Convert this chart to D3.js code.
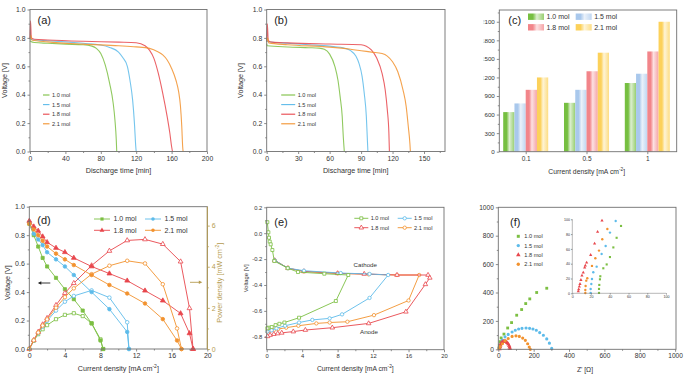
<!DOCTYPE html>
<html>
<head>
<meta charset="utf-8">
<script src="https://cdn.jsdelivr.net/npm/d3@7"></script>
<style>
  body { margin: 0; background: #fff; }
  text { font-family: "Liberation Sans", Arial, sans-serif; }
</style>
</head>
<body>
<svg id="fig" width="685" height="375"></svg>
<script>
// ---- data ----
var molLabels = ["1.0 mol", "1.5 mol", "1.8 mol", "2.1 mol"];
var colors = ["#7cbf43", "#5dbbea", "#e8464c", "#f2922e"];

// (a) discharge curves, [time min, voltage V]
var a10 = [[0,0.78],[1,0.775],[5,0.768],[20,0.762],[40,0.756],[60,0.752],[70,0.742],[75,0.726],[80,0.69],[85,0.61],[90,0.48],[94,0.34],[96,0.22],[97.5,0.08],[98,0]];
var a15 = [[0,0.80],[1,0.79],[5,0.785],[20,0.78],[40,0.772],[60,0.762],[80,0.75],[90,0.733],[100,0.70],[105,0.66],[110,0.60],[113,0.50],[116,0.36],[118,0.2],[119.5,0.035],[120,0]];
var a18 = [[0,0.80],[0.6,0.92],[1.5,0.80],[5,0.79],[20,0.785],[60,0.776],[100,0.77],[120,0.766],[130,0.745],[135,0.714],[140,0.656],[145,0.55],[150,0.41],[155,0.246],[158,0.13],[160,0.035],[161,0]];
var a21 = [[0,0.79],[0.8,0.82],[2,0.785],[20,0.772],[60,0.756],[100,0.745],[120,0.737],[135,0.726],[145,0.70],[150,0.68],[155,0.644],[160,0.585],[165,0.50],[168,0.42],[170,0.32],[171.5,0.175],[172.5,0.035],[173,0]];

// (b) discharge curves, [time min, voltage V]
var b10 = [[0,0.76],[0.5,0.745],[20,0.736],[40,0.731],[50,0.728],[55,0.72],[60,0.686],[65,0.60],[68,0.50],[70,0.386],[72,0.246],[73,0.105],[74,0]];
var b15 = [[0,0.78],[0.5,0.775],[20,0.762],[40,0.752],[60,0.742],[75,0.726],[80,0.71],[85,0.672],[88,0.62],[91,0.527],[93,0.41],[95,0.246],[96,0.08],[96.5,0]];
var b18 = [[0,0.78],[0.6,0.90],[1.5,0.78],[5,0.77],[20,0.765],[60,0.757],[90,0.752],[95,0.742],[100,0.714],[105,0.656],[110,0.55],[113,0.433],[115,0.293],[116.5,0.129],[117,0]];
var b21 = [[0,0.77],[0.8,0.80],[2,0.765],[20,0.752],[60,0.735],[80,0.72],[90,0.71],[100,0.70],[110,0.69],[115,0.672],[120,0.632],[125,0.562],[130,0.433],[133,0.316],[135,0.176],[136.5,0.06],[137,0]];

// (c) bars
var cCategories = ["0.1", "0.5", "1"];
var c10 = [640, 790, 1110];
var c15 = [780, 1000, 1260];
var c18 = [1000, 1300, 1620];
var c21 = [1200, 1600, 2100];
var cTicks = [0, 300, 600, 900, 1200, 1500, 1800, 2100];

// (d) polarization: current, voltage, power
var dCur10 = [0,0.5,1,1.5,2,3,4,5,6,7,8,8.3];
var dVolt10 = [0.88,0.80,0.72,0.64,0.58,0.50,0.42,0.35,0.27,0.18,0.06,0];
var dPow10 = [0,0.40,0.72,0.96,1.16,1.45,1.66,1.74,1.60,1.25,0.47,0];
var dCur15 = [0,0.5,1,1.5,2,3,4,5,7,9,11,11.2];
var dVolt15 = [0.89,0.81,0.77,0.73,0.68,0.63,0.58,0.52,0.40,0.28,0.12,0];
var dPow15 = [0,0.41,0.77,1.09,1.37,1.87,2.30,2.58,2.85,2.50,1.30,0];
var dCur18 = [0,0.5,1,1.5,2,3,4,5,7,9,11,13,15,17,18,18.4];
var dVolt18 = [0.90,0.86,0.83,0.79,0.75,0.71,0.68,0.64,0.58,0.53,0.48,0.41,0.34,0.25,0.11,0];
var dPow18 = [0,0.43,0.83,1.19,1.50,2.13,2.72,3.20,4.06,4.77,5.28,5.33,5.10,4.25,1.98,0];
var dCur21 = [0,0.5,1,1.5,2,3,4,5,7,9,11,13,15,16.6,17.1];
var dVolt21 = [0.88,0.84,0.80,0.76,0.72,0.67,0.63,0.59,0.52,0.45,0.39,0.32,0.21,0.06,0];
var dPow21 = [0,0.42,0.80,1.14,1.44,2.01,2.52,2.95,3.64,4.05,4.29,4.16,3.15,1.0,0];

// (e) electrode potentials, cathode then anode, [current, V]
var e10 = [[0.07,0.085],[0.19,0.007],[0.26,-0.035],[0.34,-0.065],[0.45,-0.086],[0.64,-0.13],[0.86,-0.215],[2.37,-0.27],[3.53,-0.30],[6.5,-0.313],[9.2,-0.323],
           [7.8,-0.524],[3.65,-0.653],[2.0,-0.69],[1.43,-0.70],[1.0,-0.71],[0.56,-0.725],[0.19,-0.73],[0.07,-0.735]];
var e15 = [[0.9,-0.21],[2.4,-0.27],[4.2,-0.29],[8.35,-0.308],[11.6,-0.315],[13.7,-0.323],
           [11.6,-0.50],[8.5,-0.627],[7.1,-0.658],[5.15,-0.67],[3.65,-0.69],[2.07,-0.715],[1.1,-0.735],[0.56,-0.75],[0.07,-0.76]];
var e18 = [[0.9,-0.21],[2.4,-0.27],[4.2,-0.295],[8,-0.31],[11,-0.315],[14.7,-0.323],[18.2,-0.323],[18.4,-0.345],
           [17.9,-0.395],[15.7,-0.607],[11.5,-0.697],[7.4,-0.73],[4.36,-0.748],[3.0,-0.76],[1.7,-0.77],[1.24,-0.775],[0.8,-0.78],[0.38,-0.787],[0.1,-0.797]];
var e21 = [[0.9,-0.21],[2.4,-0.27],[4.2,-0.295],[8,-0.31],[11.5,-0.318],[14.7,-0.323],[17.2,-0.323],
           [16,-0.52],[12.1,-0.633],[9.1,-0.684],[7.1,-0.69],[5.6,-0.697],[3.57,-0.715],[2.2,-0.73],[1.3,-0.74],[0.87,-0.745],[0.38,-0.753],[0.05,-0.76]];

// (f) Nyquist, [Z', -Z'']
var f10 = [[4,10],[6,30],[10,54],[16,80],[32,107],[53,150],[75,188],[104,240],[132,280],[155,322],[178,355],[217,400],[274,430]];
var f15 = [[5,12],[10,30],[23,65],[38,88],[56,105],[78,122],[96,134],[115,143],[134,148],[157,150],[177,148],[196,143],[215,134],[234,118],[255,99],[274,73],[289,43],[302,6]];
var f18 = [[6.4,2.7],[7.5,9],[9.2,18],[11.7,27.9],[15.3,41.4],[20,48],[26,54],[32,57],[38,57],[44,53],[50,46],[56,37],[61,26],[64,14],[66,4]];
var f21 = [[5,5],[10,19],[23,39],[38,60],[56,76],[78,91],[100,95],[119,91],[138,79],[153,63],[166,39],[175,16],[181,0]];
// (f) inset
var fi10 = [[28.5,0.5],[28.5,5.9],[28.8,11.3],[29.5,18.9],[29.9,23],[33.1,33.8],[36.7,39],[40.2,49],[43.8,62],[47.3,75],[52,91]];
var fi15 = [[19.6,0.5],[19.6,5.9],[20.3,12.6],[21,19.4],[22.4,28.4],[26,36],[31.3,53.2],[35.6,64],[40.2,82],[46.3,97.7]];
var fi18 = [[6.4,2.7],[6.8,5.4],[7.5,9],[8.2,12.6],[9.2,18],[10.3,23.9],[11.7,27.9],[13.2,34.7],[13.9,37.4],[15.3,41.4],[19.6,51.8],[23.8,67.1],[27,83],[31.7,98.2]];
var fi21 = [[13.9,0.5],[13.9,4.5],[14.2,9.9],[14.9,17.1],[16,20.3],[21,37],[24.6,47.3],[28.5,57.7],[32,73],[37.4,86.9]];

// ---- helpers ----
var svg = d3.select("#fig");
var grey = "#707070";
var olive = "#b59b50";
var symbols = [d3.symbolSquare, d3.symbolCircle, d3.symbolTriangle, d3.symbolCircle];
var hyph = function(f) { return function(d) { return f(d).replace("\u2212", "-"); }; };

function panel(x0, y0) {
  return svg.append("g").attr("transform", "translate(" + x0 + "," + y0 + ")");
}

function styleAxis(sel, fs, col) {
  sel.select(".domain").remove();
  sel.selectAll("line").attr("stroke", col || grey).attr("stroke-width", 0.8);
  sel.selectAll("text").attr("font-size", fs).attr("fill", col || "#333");
}

function frame(g, w, h) {
  g.append("rect").attr("width", w).attr("height", h)
   .attr("fill", "none").attr("stroke", grey).attr("stroke-width", 0.9);
}

function axes(g, x, y, w, h, o) {
  var xa = g.append("g").attr("transform", "translate(0," + h + ")")
    .call(d3.axisBottom(x).tickValues(o.xt).tickSize(2.5).tickPadding(2).tickFormat(o.xf || d3.format("d")));
  styleAxis(xa, o.fs);
  if (o.xm) {
    var xm = g.append("g").attr("transform", "translate(0," + h + ")")
      .call(d3.axisBottom(x).tickValues(o.xm).tickSize(1.5).tickFormat(""));
    styleAxis(xm, o.fs);
  }
  var ya = g.append("g")
    .call(d3.axisLeft(y).tickValues(o.yt).tickSize(2.5).tickPadding(2).tickFormat(o.yf || d3.format("d")));
  styleAxis(ya, o.fs);
  if (o.ym) {
    var ym = g.append("g").call(d3.axisLeft(y).tickValues(o.ym).tickSize(1.5).tickFormat(""));
    styleAxis(ym, o.fs);
  }
  frame(g, w, h);
}

function title(g, txt, x, y, fs, rot, col, sup) {
  var t = g.append("text").attr("font-size", fs).attr("fill", col || "#333")
    .attr("text-anchor", "middle");
  if (rot) t.attr("transform", "translate(" + x + "," + y + ") rotate(-90)");
  else t.attr("x", x).attr("y", y);
  t.append("tspan").text(txt);
  if (sup) {
    t.append("tspan").attr("dy", -fs * 0.4).attr("font-size", fs * 0.7).text("-2");
    t.append("tspan").attr("dy", fs * 0.4).text("]");
  }
  return t;
}

function panelLabel(g, txt, x, y) {
  g.append("text").attr("x", x).attr("y", y).attr("font-size", 11).attr("fill", "#222").text(txt);
}

// ---- (a) and (b) discharge ----
function discharge(x0, y0, w, h, xmax, xt, xm, series, lab, legX) {
  var g = panel(x0, y0);
  var x = d3.scaleLinear().domain([0, xmax]).range([0, w]);
  var y = d3.scaleLinear().domain([0, 1]).range([h, 0]);
  var line = d3.line().x(function(d) { return x(d[0]); }).y(function(d) { return y(d[1]); }).curve(d3.curveMonotoneX);
  series.forEach(function(s, i) {
    g.append("path").attr("d", line(s)).attr("fill", "none")
     .attr("stroke", colors[i]).attr("stroke-width", 1.1).attr("opacity", 0.85);
  });
  axes(g, x, y, w, h, { xt: xt, xm: xm, yt: [0, 0.2, 0.4, 0.6, 0.8, 1.0],
    ym: [0.1, 0.3, 0.5, 0.7, 0.9], yf: d3.format(".1f"), fs: 6.8 });
  panelLabel(g, lab, 7.5, 14.5);
  molLabels.forEach(function(m, i) {
    var ly = 85.5 + i * 9.6;
    g.append("line").attr("x1", legX[0]).attr("x2", legX[1]).attr("y1", ly).attr("y2", ly)
     .attr("stroke", colors[i]).attr("stroke-width", 1.1);
    g.append("text").attr("x", legX[1] + 2.5).attr("y", ly + 2).attr("font-size", 5.6).attr("fill", "#333").text(m);
  });
  return g;
}

var ga = discharge(30, 9.5, 177, 142, 200, [0, 40, 80, 120, 160, 200], [20, 60, 100, 140, 180],
  [a10, a15, a18, a21], "(a)", [13, 19.5]);
title(ga, "Discharge time [min]", 88.5, 163.5, 7.2);
title(ga, "Voltage [V]", -23.5, 71, 7.2, true);

var gb = discharge(266.7, 9.5, 178.3, 142, 170, [0, 30, 60, 90, 120, 150], [15, 45, 75, 105, 135, 165],
  [b10, b15, b18, b21], "(b)", [14.5, 28.5]);
title(gb, "Discharge time [min]", 89, 163.5, 7.2);
title(gb, "Voltage [V]", -23.5, 71, 7.2, true);

// ---- (c) bars ----
(function() {
  var w = 177.4, h = 141.7;
  var g = panel(499.3, 10);
  var defs = svg.append("defs");
  defs.append("clipPath").attr("id", "cclip").append("rect")
    .attr("x", -15.6).attr("y", -12).attr("width", 200).attr("height", 190);
  var gc = g.append("g").attr("clip-path", "url(#cclip)");
  var barCols = ["#76bf41", "#a9c8ec", "#f2858a", "#fcd15a"];
  barCols.forEach(function(c, i) {
    var gr = defs.append("linearGradient").attr("id", "bg" + i).attr("x1", "0").attr("x2", "1").attr("y1", "0").attr("y2", "0");
    gr.append("stop").attr("offset", "0%").attr("stop-color", c);
    gr.append("stop").attr("offset", "30%").attr("stop-color", c);
    gr.append("stop").attr("offset", "55%").attr("stop-color", d3.interpolateRgb(c, "#ffffff")(0.75));
    gr.append("stop").attr("offset", "100%").attr("stop-color", d3.interpolateRgb(c, "#ffffff")(0.25));
  });
  var x = d3.scalePoint().domain(cCategories).range([-4, w + 1]).padding(0.5);
  var inner = d3.scaleBand().domain(molLabels).range([-22.5, 22.5]);
  var y = d3.scaleLinear().domain([0, 2290]).range([h, 0]);
  var vals = [c10, c15, c18, c21];
  vals.forEach(function(v, i) {
    gc.selectAll(".bar" + i).data(v).enter().append("rect")
      .attr("x", function(d, k) { return x(cCategories[k]) + inner(molLabels[i]); })
      .attr("y", function(d) { return y(d); })
      .attr("width", inner.bandwidth())
      .attr("height", function(d) { return h - y(d); })
      .attr("fill", "url(#bg" + i + ")");
  });
  var xa = gc.append("g").attr("transform", "translate(0," + h + ")")
    .call(d3.axisBottom(x).tickSize(2.5).tickPadding(2));
  styleAxis(xa, 6.5);
  var ya = gc.append("g").call(d3.axisLeft(y).tickValues(cTicks).tickSize(2.5).tickPadding(2).tickFormat(d3.format("d")));
  styleAxis(ya, 6.2);
  var ym = gc.append("g").call(d3.axisLeft(y).tickValues(cTicks.map(function(d) { return d + 150; })).tickSize(1.5).tickFormat(""));
  styleAxis(ym, 6);
  frame(gc, w, h);
  panelLabel(g, "(c)", 9, 14);
  molLabels.forEach(function(m, i) {
    var col = i % 2, row = Math.floor(i / 2);
    var bx = 28.7 + col * 47.7, by = 6.7 + row * 10.6 - 3.2;
    g.append("rect").attr("x", bx).attr("y", by).attr("width", 16).attr("height", 6.4).attr("fill", "url(#bg" + i + ")");
    g.append("text").attr("x", bx + 18.5).attr("y", by + 5.6).attr("font-size", 7).attr("fill", "#333").text(m);
  });
  title(g, "Current density [mA cm", 87.4, 163.5, 6.8, false, null, true);
})();

// ---- (d) polarization & power ----
(function() {
  var w = 178, h = 142.3;
  var g = panel(29.3, 206.7);
  var x = d3.scaleLinear().domain([0, 20]).range([0, w]);
  var y = d3.scaleLinear().domain([0, 1]).range([h, 0]);
  var y2 = d3.scaleLinear().domain([0, 6.92]).range([h, 0]);
  var curs = [dCur10, dCur15, dCur18, dCur21];
  var volts = [dVolt10, dVolt15, dVolt18, dVolt21];
  var pows = [dPow10, dPow15, dPow18, dPow21];
  [0, 1, 2, 3].forEach(function(i) {
    var vPts = curs[i].map(function(c, k) { return [x(c), y(volts[i][k])]; });
    var pPts = curs[i].map(function(c, k) { return [x(c), y2(pows[i][k])]; });
    [pPts, vPts].forEach(function(pts, j) {
      g.append("path").attr("d", d3.line()(pts)).attr("fill", "none")
       .attr("stroke", colors[i]).attr("stroke-width", 0.9);
      g.selectAll(null).data(pts).enter().append("path")
       .attr("transform", function(d) { return "translate(" + d[0] + "," + d[1] + ")"; })
       .attr("d", d3.symbol().type(symbols[i]).size(10))
       .attr("fill", j === 1 ? colors[i] : "#fff")
       .attr("stroke", colors[i]).attr("stroke-width", 0.8);
    });
  });
  axes(g, x, y, w, h, { xt: [0, 4, 8, 12, 16, 20], xm: [2, 6, 10, 14, 18],
    yt: [0, 0.2, 0.4, 0.6, 0.8, 1.0], ym: [0.1, 0.3, 0.5, 0.7, 0.9], yf: d3.format(".1f"), fs: 7 });
  var ra = g.append("g").attr("transform", "translate(" + w + ",0)")
    .call(d3.axisRight(y2).tickValues([0, 2, 4, 6]).tickSize(2.5).tickPadding(2).tickFormat(d3.format("d")));
  styleAxis(ra, 7, olive);
  var rm = g.append("g").attr("transform", "translate(" + w + ",0)")
    .call(d3.axisRight(y2).tickValues([1, 3, 5]).tickSize(1.5).tickFormat(""));
  styleAxis(rm, 7, olive);
  g.append("line").attr("x1", w).attr("x2", w).attr("y1", 0).attr("y2", h).attr("stroke", olive).attr("stroke-width", 1);
  panelLabel(g, "(d)", 8, 17.6);
  // arrows
  g.append("line").attr("x1", 21).attr("x2", 10).attr("y1", 76.3).attr("y2", 76.3).attr("stroke", "#222").attr("stroke-width", 0.9);
  g.append("path").attr("d", "M8.5,76.3 L12,74.6 L12,78 Z").attr("fill", "#222");
  g.append("line").attr("x1", 160.7).attr("x2", 171).attr("y1", 75.6).attr("y2", 75.6).attr("stroke", olive).attr("stroke-width", 0.9);
  g.append("path").attr("d", "M173,75.6 L169.5,73.9 L169.5,77.3 Z").attr("fill", olive);
  molLabels.forEach(function(m, i) {
    var col = i % 2, row = Math.floor(i / 2);
    var lx = 64.7 + col * 51, ly = 12.3 + row * 11.3;
    g.append("line").attr("x1", lx).attr("x2", lx + 16).attr("y1", ly).attr("y2", ly).attr("stroke", colors[i]).attr("stroke-width", 0.9);
    g.append("path").attr("transform", "translate(" + (lx + 8) + "," + ly + ")")
     .attr("d", d3.symbol().type(symbols[i]).size(10)).attr("fill", colors[i]);
    g.append("text").attr("x", lx + 19.5).attr("y", ly + 2.4).attr("font-size", 7).attr("fill", "#333").text(m);
  });
  title(g, "Current density [mA cm", 89, 164.3, 7.2, false, null, true);
  title(g, "Voltage [V]", -19.3, 76, 7.2, true);
  title(g, "Power density [mW cm", 193, 76, 7.2, true, olive, true);
})();

// ---- (e) electrode potentials ----
(function() {
  var w = 177.3, h = 142.4;
  var g = panel(266.7, 207.3);
  var x = d3.scaleLinear().domain([0, 20]).range([0, w]);
  var y = d3.scaleLinear().domain([-0.9, 0.2]).range([h, 0]);
  var line = d3.line().x(function(d) { return x(d[0]); }).y(function(d) { return y(d[1]); });
  var series = [e10, e15, e18, e21];
  [3, 2, 1, 0].forEach(function(i) {
    g.append("path").attr("d", line(series[i])).attr("fill", "none").attr("stroke", colors[i]).attr("stroke-width", 0.9);
    g.selectAll(null).data(series[i]).enter().append("path")
     .attr("transform", function(d) { return "translate(" + x(d[0]) + "," + y(d[1]) + ")"; })
     .attr("d", d3.symbol().type(symbols[i]).size(9))
     .attr("fill", "#fff").attr("stroke", colors[i]).attr("stroke-width", 0.8);
  });
  axes(g, x, y, w, h, { xt: [0, 4, 8, 12, 16, 20], xm: [2, 6, 10, 14, 18],
    yt: [0.2, 0, -0.2, -0.4, -0.6, -0.8], ym: [0.1, -0.1, -0.3, -0.5, -0.7], yf: hyph(d3.format(".1f")), fs: 5.8 });
  panelLabel(g, "(e)", 7.6, 18.4);
  g.append("text").attr("x", 98.6).attr("y", 60).attr("text-anchor", "middle").attr("font-size", 6.2).attr("fill", "#333").text("Cathode");
  g.append("text").attr("x", 102.3).attr("y", 126.6).attr("text-anchor", "middle").attr("font-size", 6.2).attr("fill", "#333").text("Anode");
  molLabels.forEach(function(m, i) {
    var col = i % 2, row = Math.floor(i / 2);
    var lx = 87.6 + col * 43.4, ly = 11 + row * 9.4;
    g.append("line").attr("x1", lx).attr("x2", lx + 14).attr("y1", ly).attr("y2", ly).attr("stroke", colors[i]).attr("stroke-width", 0.9);
    g.append("path").attr("transform", "translate(" + (lx + 7) + "," + ly + ")")
     .attr("d", d3.symbol().type(symbols[i]).size(9)).attr("fill", "#fff").attr("stroke", colors[i]).attr("stroke-width", 0.8);
    g.append("text").attr("x", lx + 16.4).attr("y", ly + 2).attr("font-size", 5.6).attr("fill", "#333").text(m);
  });
  title(g, "Current density [mA cm", 88.6, 163.5, 6.8, false, null, true);
  title(g, "Voltage [V]", -18.4, 71, 5.8, true);
})();

// ---- (f) Nyquist ----
(function() {
  var w = 177.7, h = 142;
  var g = panel(498.3, 207.3);
  var x = d3.scaleLinear().domain([0, 1005]).range([0, w]);
  var y = d3.scaleLinear().domain([0, 1000]).range([h, 0]);
  var series = [f10, f15, f18, f21];
  series.forEach(function(s, i) {
    g.selectAll(null).data(s).enter().append("path")
     .attr("transform", function(d) { return "translate(" + x(d[0]) + "," + y(d[1]) + ")"; })
     .attr("d", d3.symbol().type(symbols[i]).size(8)).attr("fill", colors[i]);
  });
  axes(g, x, y, w, h, { xt: [0, 200, 400, 600, 800, 1000], xm: [100, 300, 500, 700, 900],
    yt: [0, 200, 400, 600, 800, 1000], ym: [100, 300, 500, 700, 900], fs: 6.6 });
  panelLabel(g, "(f)", 11.7, 18.4);
  molLabels.forEach(function(m, i) {
    var ly = 29 + i * 9.3;
    g.append("path").attr("transform", "translate(20," + ly + ")")
     .attr("d", d3.symbol().type(symbols[i]).size(9)).attr("fill", colors[i]);
    g.append("text").attr("x", 26).attr("y", ly + 2).attr("font-size", 5.6).attr("fill", "#333").text(m);
  });
  title(g, "Z' [\u03a9]", 86.7, 164.3, 6.8);

  // inset
  var iw = 93.7, ih = 74;
  var gi = g.append("g").attr("transform", "translate(74,12)");
  var xi = d3.scaleLinear().domain([0, 100]).range([0, iw]);
  var yi = d3.scaleLinear().domain([0, 100]).range([ih, 0]);
  [fi10, fi15, fi18, fi21].forEach(function(s, i) {
    gi.selectAll(null).data(s).enter().append("path")
      .attr("transform", function(d) { return "translate(" + xi(d[0]) + "," + yi(d[1]) + ")"; })
      .attr("d", d3.symbol().type(symbols[i]).size(4.5)).attr("fill", colors[i]);
  });
  var ix = gi.append("g").attr("transform", "translate(0," + ih + ")")
    .call(d3.axisBottom(xi).tickValues([0, 20, 40, 60, 80, 100]).tickSize(1.2).tickPadding(1));
  styleAxis(ix, 3.6);
  var iy = gi.append("g").call(d3.axisLeft(yi).tickValues([0, 20, 40, 60, 80, 100]).tickSize(1.2).tickPadding(1));
  styleAxis(iy, 3.6);
  gi.append("line").attr("x1", 0).attr("x2", iw).attr("y1", ih).attr("y2", ih).attr("stroke", grey).attr("stroke-width", 0.5);
  gi.append("line").attr("x1", 0).attr("x2", 0).attr("y1", 0).attr("y2", ih).attr("stroke", grey).attr("stroke-width", 0.5);
})();
</script>
</body>
</html>
